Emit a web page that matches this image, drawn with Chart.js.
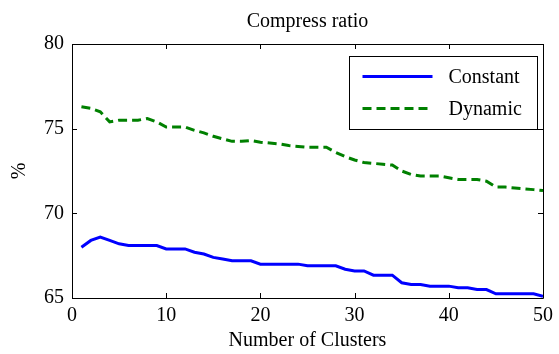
<!DOCTYPE html>
<html>
<head>
<meta charset="utf-8">
<script src="https://cdn.jsdelivr.net/npm/chart.js@4.4.1/dist/chart.umd.min.js"></script>
<style>
  html, body { margin: 0; padding: 0; background: #fff; }
  #wrap { width: 559px; height: 354px; }
</style>
</head>
<body>
<div id="wrap"><canvas id="chart" width="559" height="354"></canvas></div>
<script>
const clusters = Array.from({ length: 50 }, (_, i) => i + 1);

const constant = [
  68.0, 68.4, 68.6, 68.4, 68.2, 68.1, 68.1, 68.1, 68.1, 67.9,
  67.9, 67.9, 67.7, 67.6, 67.4, 67.3, 67.2, 67.2, 67.2, 67.0,
  67.0, 67.0, 67.0, 67.0, 66.9, 66.9, 66.9, 66.9, 66.7, 66.6,
  66.6, 66.35, 66.35, 66.35, 65.9, 65.8, 65.8, 65.7, 65.7, 65.7,
  65.6, 65.6, 65.5, 65.5, 65.25, 65.25, 65.25, 65.25, 65.25, 65.1
];

const dynamic = [
  76.3, 76.2, 76.0, 75.4, 75.5, 75.5, 75.5, 75.6, 75.4, 75.1,
  75.1, 75.1, 74.9, 74.75, 74.55, 74.4, 74.25, 74.25, 74.3, 74.2,
  74.15, 74.1, 74.0, 73.95, 73.9, 73.9, 73.9, 73.6, 73.35, 73.15,
  73.0, 72.95, 72.9, 72.85, 72.5, 72.3, 72.2, 72.2, 72.2, 72.1,
  72.0, 72.0, 72.0, 71.9, 71.55, 71.55, 71.5, 71.45, 71.4, 71.35
];

const xTicks = [0, 10, 20, 30, 40, 50];
const yTicks = [65, 70, 75, 80];

const FONT = "'Liberation Serif', 'Times New Roman', serif";
const FS = 20;

// box round the plot, with the ticks pointing inwards on every side
const boxPlugin = {
  id: "box",
  afterDraw(chart) {
    const { ctx, chartArea: a, scales } = chart;
    ctx.save();
    ctx.strokeStyle = "#000";
    ctx.lineWidth = 1;
    ctx.beginPath();
    ctx.rect(Math.round(a.left) + 0.5, Math.round(a.top) + 0.5,
             Math.round(a.right - a.left), Math.round(a.bottom - a.top));
    const tl = 5;
    xTicks.forEach(v => {
      const px = Math.round(scales.x.getPixelForValue(v)) + 0.5;
      ctx.moveTo(px, a.bottom); ctx.lineTo(px, a.bottom - tl);
      ctx.moveTo(px, a.top); ctx.lineTo(px, a.top + tl);
    });
    yTicks.forEach(v => {
      const py = Math.round(scales.y.getPixelForValue(v)) + 0.5;
      ctx.moveTo(a.left, py); ctx.lineTo(a.left + tl, py);
      ctx.moveTo(a.right, py); ctx.lineTo(a.right - tl, py);
    });
    ctx.stroke();

    // legend in the upper right corner
    const bx = 349.5, by = 56.5, bw = 188, bh = 73;
    ctx.fillStyle = "#fff";
    ctx.fillRect(bx, by, bw, bh);
    ctx.strokeRect(bx, by, bw, bh);
    ctx.font = FS + "px " + FONT;
    ctx.textBaseline = "middle";
    chart.data.datasets.forEach((ds, i) => {
      const yy = by + 20 + i * 32;
      ctx.strokeStyle = ds.borderColor;
      ctx.lineWidth = ds.borderWidth;
      ctx.setLineDash(ds.borderDash || []);
      ctx.beginPath();
      ctx.moveTo(bx + 13, yy);
      ctx.lineTo(bx + 83, yy);
      ctx.stroke();
      ctx.setLineDash([]);
      ctx.fillStyle = "#000";
      ctx.fillText(ds.label, bx + 99, yy + 1);
    });
    ctx.restore();
  }
};

new Chart(document.getElementById("chart"), {
  type: "line",
  data: {
    labels: clusters,
    datasets: [
      {
        label: "Constant",
        data: constant.map((v, i) => ({ x: clusters[i], y: v })),
        borderColor: "#0000ff",
        borderWidth: 3,
        pointRadius: 0,
        tension: 0,
        fill: false
      },
      {
        label: "Dynamic",
        data: dynamic.map((v, i) => ({ x: clusters[i], y: v })),
        borderColor: "#008000",
        borderWidth: 3,
        borderDash: [9, 5],
        pointRadius: 0,
        tension: 0,
        fill: false
      }
    ]
  },
  options: {
    responsive: false,
    animation: false,
    layout: { padding: { top: 0, right: 13, left: 0, bottom: 0 } },
    plugins: {
      legend: { display: false },
      tooltip: { enabled: false },
      title: {
        display: true,
        fullSize: false,
        text: "Compress ratio",
        color: "#000",
        font: { family: FONT, size: FS, weight: "normal" },
        padding: { top: 10, bottom: 10 }
      }
    },
    scales: {
      x: {
        type: "linear",
        min: 0, max: 50,
        afterBuildTicks: s => { s.ticks = xTicks.map(v => ({ value: v })); },
        afterFit: s => { s.height = 56; },
        grid: { display: false, drawTicks: false },
        border: { display: false },
        ticks: { color: "#000", padding: 6, maxRotation: 0, font: { family: FONT, size: FS } },
        title: {
          display: true,
          text: "Number of Clusters",
          color: "#000",
          padding: { top: 2, bottom: 1 },
          font: { family: FONT, size: FS }
        }
      },
      y: {
        min: 65, max: 80,
        afterBuildTicks: s => { s.ticks = yTicks.map(v => ({ value: v })); },
        afterFit: s => { s.width = 72; },
        grid: { display: false, drawTicks: false },
        border: { display: false },
        ticks: { color: "#000", padding: 8, font: { family: FONT, size: FS } },
        title: {
          display: true,
          text: "%",
          color: "#000",
          padding: { top: 8, bottom: 0 },
          font: { family: FONT, size: FS }
        }
      }
    }
  },
  plugins: [boxPlugin]
});
</script>
</body>
</html>
